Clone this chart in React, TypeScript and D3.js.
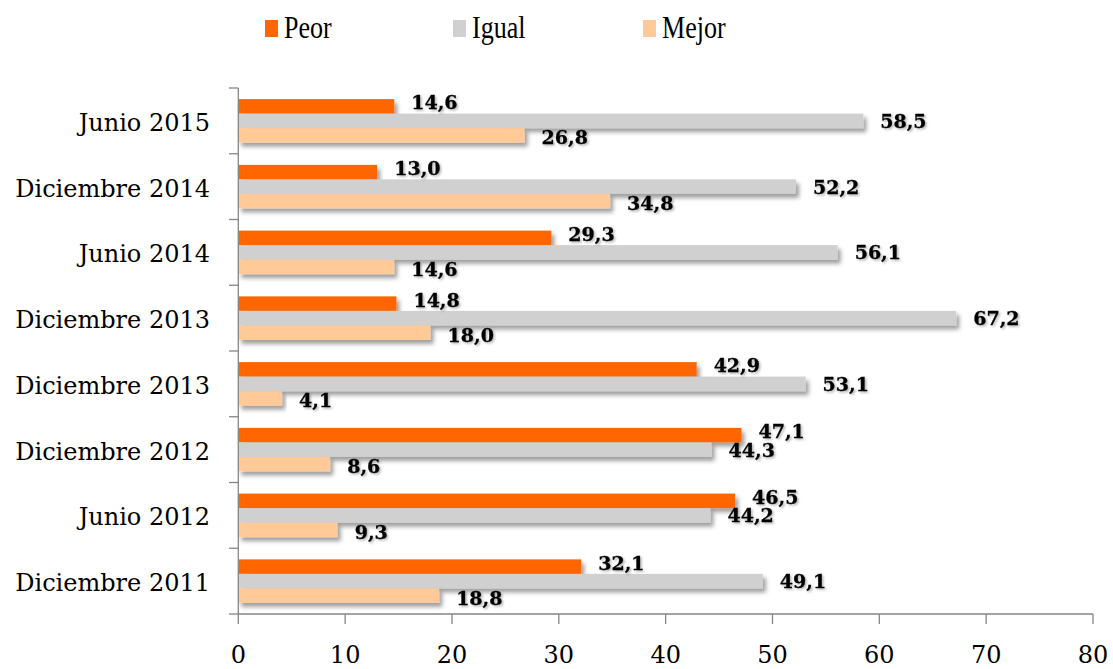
import React from "react";
import * as d3 from "d3";

const categories = [
  "Junio 2015",
  "Diciembre 2014",
  "Junio 2014",
  "Diciembre 2013",
  "Diciembre 2013",
  "Diciembre 2012",
  "Junio 2012",
  "Diciembre 2011",
];
const seriesNames = ["Peor", "Igual", "Mejor"];
const peor = [14.6, 13.0, 29.3, 14.8, 42.9, 47.1, 46.5, 32.1];
const igual = [58.5, 52.2, 56.1, 67.2, 53.1, 44.3, 44.2, 49.1];
const mejor = [26.8, 34.8, 14.6, 18.0, 4.1, 8.6, 9.3, 18.8];
const xTicks = [0, 10, 20, 30, 40, 50, 60, 70, 80];

const colors = ["#FF6600", "#D0D0D0", "#FFC998"];
const labelDy = [-4, 0, 2];

const W = 1113;
const H = 669;

export default function App() {
  const seriesValues = [peor, igual, mejor];
  const x = d3.scaleLinear().domain([0, 80]).range([238.3, 1093]);
  const y = d3
    .scaleBand<number>()
    .domain(categories.map((_, i) => i))
    .range([88, 614])
    .paddingInner(0)
    .paddingOuter(0);
  const ys = d3
    .scaleBand<string>()
    .domain(seriesNames)
    .range([0, y.bandwidth()])
    .paddingInner(0)
    .paddingOuter(0.767);
  const fmt = (v: number) => v.toFixed(1).replace(".", ",");
  const axisColor = "#868686";
  const bandEdges = d3.range(categories.length + 1).map((i) =>
    i < categories.length ? (y(i) as number) : 614
  );

  const legendX = [265, 453, 643];

  return (
    <svg
      width={W}
      height={H}
      style={{ position: "absolute", left: 0, top: 0, display: "block", background: "#fff" }}
    >
      <defs>
        <filter id="barShadow" x="-5%" y="-50%" width="115%" height="250%">
          <feDropShadow dx="3" dy="4" stdDeviation="2.2" floodColor="#000" floodOpacity="0.38" />
        </filter>
        <filter id="textShadow" x="-20%" y="-40%" width="150%" height="190%">
          <feDropShadow dx="1.5" dy="1.5" stdDeviation="1.2" floodColor="#000" floodOpacity="0.3" />
        </filter>
      </defs>

      {/* Legend */}
      {seriesNames.map((s, i) => (
        <g key={s}>
          <rect x={legendX[i]} y={20} width={13} height={17} fill={colors[i]} />
          <text
            transform={`translate(${legendX[i] + 19},38) scale(0.93,1.15)`}
            fontFamily="Liberation Serif"
            fontSize={28}
            fill="#000"
          >
            {s}
          </text>
        </g>
      ))}

      {/* Bars */}
      {categories.map((c, ci) => (
        <g key={ci} transform={`translate(0,${y(ci)})`}>
          {seriesNames.map((s, si) => (
            <rect
              key={s}
              x={x(0)}
              y={ys(s) as number}
              width={x(seriesValues[si][ci]) - x(0)}
              height={ys.bandwidth()}
              fill={colors[si]}
              filter="url(#barShadow)"
            />
          ))}
        </g>
      ))}

      {/* Data labels */}
      {categories.map((c, ci) => (
        <g key={"l" + ci} transform={`translate(0,${y(ci)})`}>
          {seriesNames.map((s, si) => (
            <text
              key={s}
              x={x(seriesValues[si][ci]) + 17}
              y={(ys(s) as number) + ys.bandwidth() / 2 + labelDy[si] + 7}
              fontFamily="DejaVu Serif"
              fontWeight="bold"
              fontSize={19}
              fill="#000"
              stroke="#000"
              strokeWidth={0.3}
              filter="url(#textShadow)"
            >
              {fmt(seriesValues[si][ci])}
            </text>
          ))}
        </g>
      ))}

      {/* Y axis */}
      <line x1={x(0)} x2={x(0)} y1={88} y2={614} stroke={axisColor} strokeWidth={1.3} />
      {bandEdges.map((e, i) => (
        <line key={"yt" + i} x1={229} x2={x(0)} y1={e} y2={e} stroke={axisColor} strokeWidth={1.3} />
      ))}
      {categories.map((c, ci) => (
        <text
          key={"c" + ci}
          x={210}
          y={(y(ci) as number) + y.bandwidth() / 2 + 10}
          textAnchor="end"
          fontFamily="DejaVu Serif"
          fontSize={24}
          fill="#000"
        >
          {c}
        </text>
      ))}

      {/* X axis */}
      <line x1={x(0)} x2={x(80)} y1={614} y2={614} stroke={axisColor} strokeWidth={1.3} />
      {xTicks.map((t) => (
        <g key={"xt" + t}>
          <line x1={x(t)} x2={x(t)} y1={614} y2={624} stroke={axisColor} strokeWidth={1.3} />
          <text
            x={x(t)}
            y={663}
            textAnchor="middle"
            fontFamily="DejaVu Serif"
            fontSize={24}
            fill="#000"
          >
            {t}
          </text>
        </g>
      ))}
    </svg>
  );
}
